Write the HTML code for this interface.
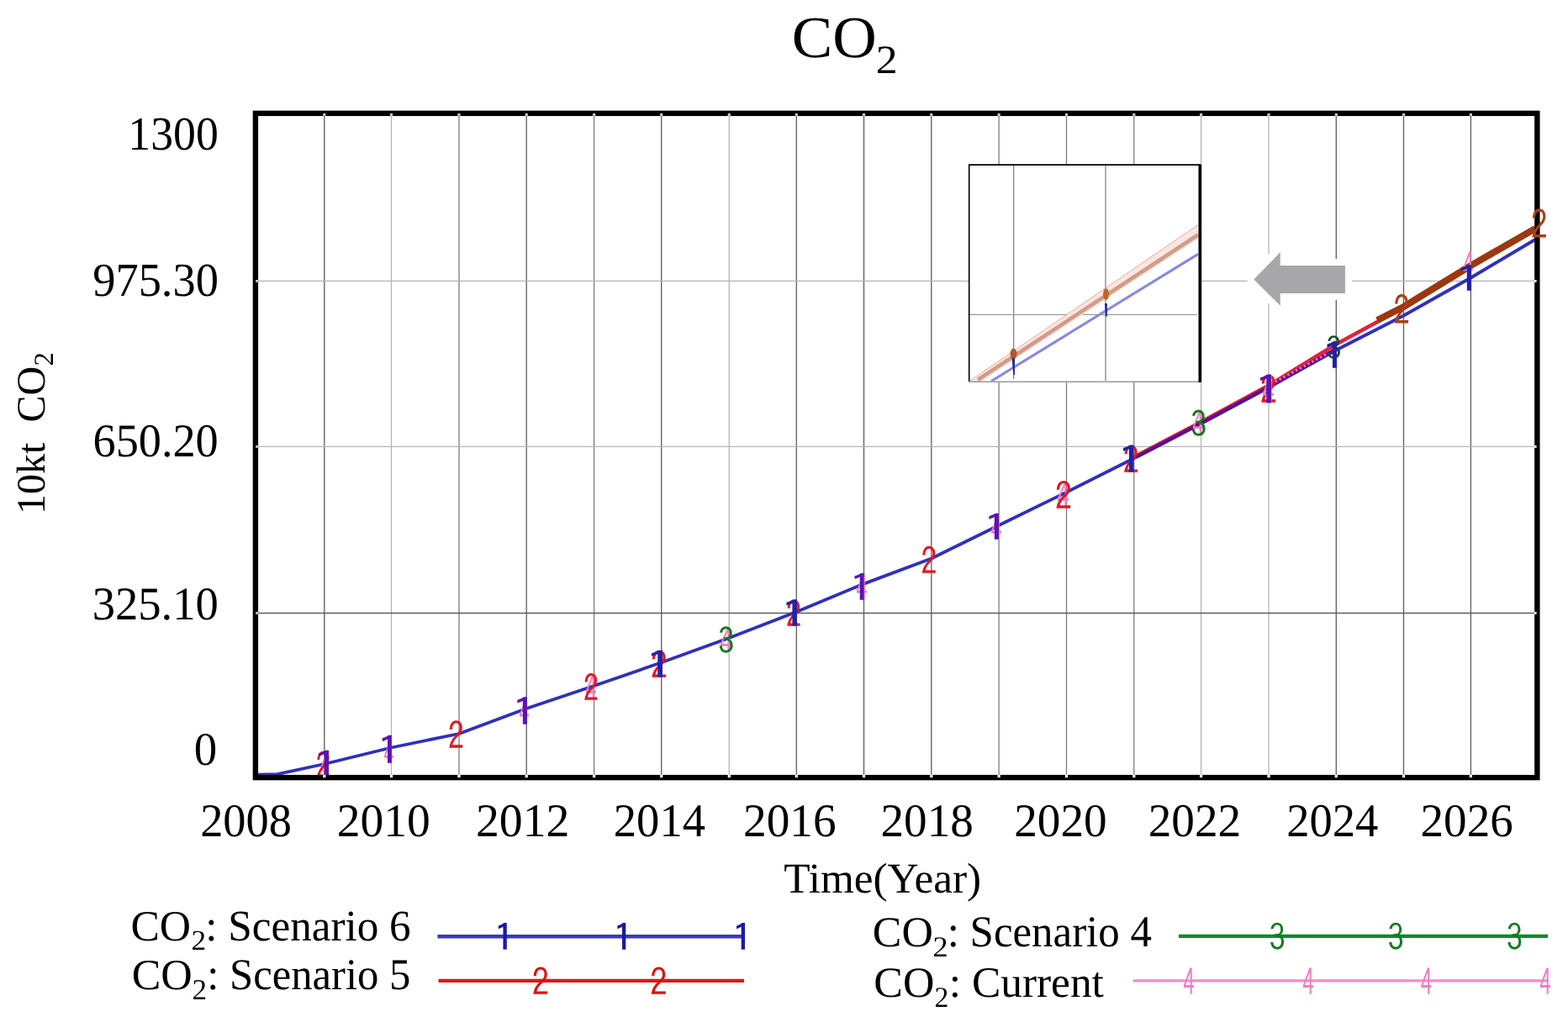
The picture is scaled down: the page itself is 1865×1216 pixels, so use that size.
<!DOCTYPE html>
<html><head><meta charset="utf-8"><title>CO2</title><style>
html,body{margin:0;padding:0;background:#fff;}
body{width:1865px;height:1216px;overflow:hidden;position:relative;}
svg{position:absolute;left:0;top:0;display:block;}
</style></head><body>
<svg width="1865" height="1216" viewBox="0 0 1865 1216" text-rendering="geometricPrecision">
<rect x="0" y="0" width="1865" height="1216" fill="#fff"/>
<g fill="none" stroke-width="1.3">
<line x1="385.8" y1="137" x2="385.8" y2="923" stroke="#5c5c5c"/>
<line x1="465.5" y1="137" x2="465.5" y2="923" stroke="#b4b4b4"/>
<line x1="546.0" y1="137" x2="546.0" y2="923" stroke="#7c7c7c"/>
<line x1="626.2" y1="137" x2="626.2" y2="923" stroke="#5c5c5c"/>
<line x1="706.6" y1="137" x2="706.6" y2="923" stroke="#7c7c7c"/>
<line x1="786.7" y1="137" x2="786.7" y2="923" stroke="#5c5c5c"/>
<line x1="867.3" y1="137" x2="867.3" y2="923" stroke="#b4b4b4"/>
<line x1="947.3" y1="137" x2="947.3" y2="923" stroke="#5c5c5c"/>
<line x1="1027.5" y1="137" x2="1027.5" y2="923" stroke="#5c5c5c"/>
<line x1="1107.8" y1="137" x2="1107.8" y2="923" stroke="#5c5c5c"/>
<line x1="1188.1" y1="137" x2="1188.1" y2="923" stroke="#7c7c7c"/>
<line x1="1268.5" y1="137" x2="1268.5" y2="923" stroke="#7c7c7c"/>
<line x1="1348.8" y1="137" x2="1348.8" y2="923" stroke="#7c7c7c"/>
<line x1="1428.6" y1="137" x2="1428.6" y2="923" stroke="#b4b4b4"/>
<line x1="1509.0" y1="137" x2="1509.0" y2="923" stroke="#b4b4b4"/>
<line x1="1589.3" y1="137" x2="1589.3" y2="923" stroke="#5c5c5c"/>
<line x1="1669.5" y1="137" x2="1669.5" y2="923" stroke="#5c5c5c"/>
<line x1="1749.4" y1="137" x2="1749.4" y2="923" stroke="#5c5c5c"/>
<line x1="306" y1="334.4" x2="1826" y2="334.4" stroke="#b4b4b4"/>
<line x1="306" y1="531.4" x2="1826" y2="531.4" stroke="#b4b4b4"/>
<line x1="306" y1="729.5" x2="1826" y2="729.5" stroke="#5c5c5c"/>
</g>
<polygon points="1491.3,332.5 1522.9,299.9 1522.6,316 1599.9,316 1599.9,349 1522.6,349 1522.9,363.8" fill="#fff" stroke="#fff" stroke-width="16" stroke-linejoin="round"/>
<polygon points="1491.3,332.5 1522.9,299.9 1522.6,316 1599.9,316 1599.9,349 1522.6,349 1522.9,363.8" fill="#a7a6a8"/>
<g>
<rect x="1152.7" y="196.1" width="274" height="258" fill="#fff"/>
<g stroke-width="1.2" fill="none">
<line x1="1205.7" y1="197" x2="1205.7" y2="451" stroke="#7a7a7a"/>
<line x1="1315" y1="197" x2="1315" y2="453" stroke="#7a7a7a"/>
<line x1="1153" y1="374.3" x2="1424" y2="374.3" stroke="#9a9a9a"/>
</g>
<polygon points="1153,453.5 1425,267.5 1425,284 1166,454.5" fill="#fbe6e1"/>
<line x1="1153" y1="453.5" x2="1425" y2="267.5" stroke="#e2a596" stroke-width="0.9"/>
<line x1="1163" y1="452" x2="1425" y2="279.5" stroke="#d59c88" stroke-width="4.5"/>
<line x1="1164" y1="450" x2="1425" y2="277" stroke="#c89070" stroke-width="0.8" opacity="0.6"/>
<line x1="1179" y1="453.5" x2="1425" y2="302.4" stroke="#8787e6" stroke-width="3"/>
<ellipse cx="1205.5" cy="421" rx="4" ry="6.5" fill="#b8532e"/>
<path d="M1203.5,426 L1207,426 L1207,445 L1205.5,447 Z" fill="#2a2a90"/>
<ellipse cx="1315.5" cy="350" rx="3.5" ry="7" fill="#c0652a"/>
<path d="M1314,361 L1316.8,361 L1316.8,376 L1315,377 Z" fill="#2020a0"/>
<path d="M1152.7,454 L1152.7,196.1 L1427,196.1" fill="none" stroke="#000" stroke-width="1.6"/>
<line x1="1152" y1="454.2" x2="1428" y2="454.2" stroke="#999" stroke-width="1.6"/>
<line x1="1427.3" y1="195.5" x2="1427.3" y2="455" stroke="#000" stroke-width="3.6"/>
</g>
<polyline points="1348.8,543.8 1428.6,502 1509,458.6 1589.3,409.5 1669.5,366" fill="none" stroke="#e4203c" stroke-width="4.5" stroke-linejoin="round"/>
<polyline points="1638,381 1669.5,365 1749.4,316 1826,272" fill="none" stroke="#9c3810" stroke-width="8" stroke-linejoin="round"/>
<polyline points="307.0,921.6 330.0,921.2 386.0,909.0 465.5,889.5 546.0,873.0 626.2,843.0 706.6,816.0 786.7,788.3 867.3,759.0 947.3,728.0 1027.5,694.6 1107.8,664.5 1188.1,625.0 1268.5,585.6 1348.8,545.2 1428.6,504.0 1509.0,461.0 1589.3,416.5 1669.5,375.5 1749.4,330.5 1826.0,285.0" fill="none" stroke="#2f2fc0" stroke-width="3.8" stroke-linejoin="round"/>
<polyline points="1352,543.5 1428.6,503.5 1509,460.5 1589.3,415" fill="none" stroke="#5c0c94" stroke-width="4.2" stroke-linejoin="round"/>
<line x1="1512" y1="457" x2="1580" y2="420" stroke="#f070b0" stroke-width="3" stroke-dasharray="2.5 3" />
<g font-family="IPAGothic, 'Liberation Sans', sans-serif">
<text transform="translate(380.45,927.18) scale(0.518,1)" font-size="42.84" fill="#f27cc0">4</text>
<text transform="translate(375.58,927.19) scale(0.841,1)" font-size="43.10" fill="#e8141e">2</text>
<text transform="translate(371.41,927.32) scale(1.404,1)" font-size="45.70" fill="#5a14b4">1</text>
<text transform="translate(456.39,911.10) scale(0.590,1)" font-size="41.42" fill="#f27cc0">4</text>
<text transform="translate(447.68,910.18) scale(1.267,1)" font-size="46.84" fill="#5a14b4">1</text>
<text transform="translate(532.69,892.20) scale(0.855,1)" font-size="45.19" fill="#e8141e">2</text>
<text transform="translate(617.39,862.18) scale(0.570,1)" font-size="42.84" fill="#f27cc0">4</text>
<text transform="translate(608.07,863.75) scale(1.341,1)" font-size="46.27" fill="#5a14b4">1</text>
<text transform="translate(696.34,834.10) scale(0.644,1)" font-size="41.42" fill="#f27cc0">4</text>
<text transform="translate(693.85,835.35) scale(0.836,1)" font-size="44.22" fill="#e8141e">2</text>
<text transform="translate(773.81,807.76) scale(0.912,1)" font-size="44.49" fill="#e8141e">2</text>
<text transform="translate(766.78,807.82) scale(1.521,1)" font-size="45.70" fill="#2222a8">1</text>
<text transform="translate(856.28,778.10) scale(0.697,1)" font-size="41.42" fill="#f27cc0">4</text>
<text transform="translate(853.98,778.31) scale(0.911,1)" font-size="42.42" fill="#0e7a1c">3</text>
<text transform="translate(934.85,747.02) scale(0.852,1)" font-size="43.66" fill="#e8141e">2</text>
<text transform="translate(927.60,747.08) scale(1.491,1)" font-size="44.84" fill="#2222a8">1</text>
<text transform="translate(1018.34,715.18) scale(0.622,1)" font-size="42.84" fill="#f27cc0">4</text>
<text transform="translate(1009.38,715.71) scale(1.307,1)" font-size="45.42" fill="#5a14b4">1</text>
<text transform="translate(1095.19,683.85) scale(0.871,1)" font-size="44.35" fill="#e8141e">2</text>
<text transform="translate(1178.34,644.18) scale(0.622,1)" font-size="42.84" fill="#f27cc0">4</text>
<text transform="translate(1169.07,644.24) scale(1.406,1)" font-size="44.13" fill="#5a14b4">1</text>
<text transform="translate(1257.28,605.10) scale(0.697,1)" font-size="41.42" fill="#f27cc0">4</text>
<text transform="translate(1254.80,607.01) scale(0.898,1)" font-size="45.47" fill="#e8141e">2</text>
<text transform="translate(1335.58,564.07) scale(0.871,1)" font-size="44.63" fill="#e8141e">2</text>
<text transform="translate(1328.10,564.13) scale(1.458,1)" font-size="45.84" fill="#2222a8">1</text>
<text transform="translate(1418.34,519.03) scale(0.667,1)" font-size="39.99" fill="#f27cc0">4</text>
<text transform="translate(1415.88,520.10) scale(0.917,1)" font-size="42.15" fill="#0e7a1c">3</text>
<text transform="translate(1498.39,481.33) scale(0.895,1)" font-size="45.88" fill="#e8141e">2</text>
<text transform="translate(1501.28,481.32) scale(0.632,1)" font-size="45.70" fill="#f27cc0">4</text>
<text transform="translate(1490.78,482.47) scale(1.432,1)" font-size="48.56" fill="#5a14b4">1</text>
<text transform="translate(1577.48,428.35) scale(0.971,1)" font-size="37.29" fill="#1c4a24">3</text>
<text transform="translate(1571.13,440.39) scale(1.363,1)" font-size="45.13" fill="#2222a8">1</text>
<text transform="translate(1657.16,387.04) scale(0.821,1)" font-size="47.97" fill="#b03c14">2</text>
<text transform="translate(1739.34,332.21) scale(0.612,1)" font-size="43.56" fill="#f27cc0">4</text>
<text transform="translate(1730.41,348.21) scale(1.473,1)" font-size="43.56" fill="#2222a8">1</text>
</g>
<rect x="303.9" y="134.85" width="1524.45" height="790.3" fill="none" stroke="#000" stroke-width="6.4"/>
<g font-family="IPAGothic, 'Liberation Sans', sans-serif"><text transform="translate(1820.83,284.83) scale(0.838,1)" font-size="47.83" fill="#b03c14">2</text></g>
<rect x="384.2" y="135" width="3.2" height="2.9" fill="#cfcfcf"/>
<rect x="384.2" y="921.8" width="3.2" height="3.4" fill="#fff"/>
<rect x="463.9" y="135" width="3.2" height="2.9" fill="#cfcfcf"/>
<rect x="463.9" y="921.8" width="3.2" height="3.4" fill="#fff"/>
<rect x="544.4" y="135" width="3.2" height="2.9" fill="#cfcfcf"/>
<rect x="544.4" y="921.8" width="3.2" height="3.4" fill="#fff"/>
<rect x="624.6" y="135" width="3.2" height="2.9" fill="#cfcfcf"/>
<rect x="624.6" y="921.8" width="3.2" height="3.4" fill="#fff"/>
<rect x="705.0" y="135" width="3.2" height="2.9" fill="#cfcfcf"/>
<rect x="705.0" y="921.8" width="3.2" height="3.4" fill="#fff"/>
<rect x="785.1" y="135" width="3.2" height="2.9" fill="#cfcfcf"/>
<rect x="785.1" y="921.8" width="3.2" height="3.4" fill="#fff"/>
<rect x="865.7" y="135" width="3.2" height="2.9" fill="#cfcfcf"/>
<rect x="865.7" y="921.8" width="3.2" height="3.4" fill="#fff"/>
<rect x="945.7" y="135" width="3.2" height="2.9" fill="#cfcfcf"/>
<rect x="945.7" y="921.8" width="3.2" height="3.4" fill="#fff"/>
<rect x="1025.9" y="135" width="3.2" height="2.9" fill="#cfcfcf"/>
<rect x="1025.9" y="921.8" width="3.2" height="3.4" fill="#fff"/>
<rect x="1106.2" y="135" width="3.2" height="2.9" fill="#cfcfcf"/>
<rect x="1106.2" y="921.8" width="3.2" height="3.4" fill="#fff"/>
<rect x="1186.5" y="135" width="3.2" height="2.9" fill="#cfcfcf"/>
<rect x="1186.5" y="921.8" width="3.2" height="3.4" fill="#fff"/>
<rect x="1266.9" y="135" width="3.2" height="2.9" fill="#cfcfcf"/>
<rect x="1266.9" y="921.8" width="3.2" height="3.4" fill="#fff"/>
<rect x="1347.2" y="135" width="3.2" height="2.9" fill="#cfcfcf"/>
<rect x="1347.2" y="921.8" width="3.2" height="3.4" fill="#fff"/>
<rect x="1427.0" y="135" width="3.2" height="2.9" fill="#cfcfcf"/>
<rect x="1427.0" y="921.8" width="3.2" height="3.4" fill="#fff"/>
<rect x="1507.4" y="135" width="3.2" height="2.9" fill="#cfcfcf"/>
<rect x="1507.4" y="921.8" width="3.2" height="3.4" fill="#fff"/>
<rect x="1587.7" y="135" width="3.2" height="2.9" fill="#cfcfcf"/>
<rect x="1587.7" y="921.8" width="3.2" height="3.4" fill="#fff"/>
<rect x="1667.9" y="135" width="3.2" height="2.9" fill="#cfcfcf"/>
<rect x="1667.9" y="921.8" width="3.2" height="3.4" fill="#fff"/>
<rect x="1747.8" y="135" width="3.2" height="2.9" fill="#cfcfcf"/>
<rect x="1747.8" y="921.8" width="3.2" height="3.4" fill="#fff"/>
<rect x="304.2" y="333.0" width="2.8" height="2.8" fill="#d0d0d0"/>
<rect x="1825" y="333.0" width="2.6" height="2.8" fill="#fff"/>
<rect x="304.2" y="530.0" width="2.8" height="2.8" fill="#d0d0d0"/>
<rect x="1825" y="530.0" width="2.6" height="2.8" fill="#fff"/>
<rect x="304.2" y="728.1" width="2.8" height="2.8" fill="#d0d0d0"/>
<rect x="1825" y="728.1" width="2.6" height="2.8" fill="#fff"/>
<line x1="520.4" y1="1114.3" x2="885" y2="1114.3" stroke="#3a3ac0" stroke-width="4.6"/>
<line x1="521.5" y1="1166.9" x2="885" y2="1166.9" stroke="#e01818" stroke-width="4.4"/>
<line x1="1402" y1="1113.8" x2="1841" y2="1113.8" stroke="#138a2a" stroke-width="4.3"/>
<line x1="1347.6" y1="1166.9" x2="1841.6" y2="1166.9" stroke="#f58cc8" stroke-width="3.2"/>
<g font-family="IPAGothic, 'Liberation Sans', sans-serif">
<text transform="translate(586.48,1132.09) scale(1.185,1)" font-size="45.13" fill="#1a1aa6">1</text>
<text transform="translate(727.98,1132.09) scale(1.185,1)" font-size="45.13" fill="#1a1aa6">1</text>
<text transform="translate(869.68,1132.09) scale(1.185,1)" font-size="45.13" fill="#1a1aa6">1</text>
<text transform="translate(632.48,1185.27) scale(0.928,1)" font-size="44.77" fill="#e01010">2</text>
<text transform="translate(773.08,1185.27) scale(0.928,1)" font-size="44.77" fill="#e01010">2</text>
<text transform="translate(1509.38,1131.33) scale(0.894,1)" font-size="43.23" fill="#137a22">3</text>
<text transform="translate(1650.38,1131.33) scale(0.894,1)" font-size="43.23" fill="#137a22">3</text>
<text transform="translate(1791.68,1131.33) scale(0.894,1)" font-size="43.23" fill="#137a22">3</text>
<text transform="translate(1407.34,1184.96) scale(0.598,1)" font-size="44.56" fill="#f27cc0">4</text>
<text transform="translate(1549.24,1184.96) scale(0.598,1)" font-size="44.56" fill="#f27cc0">4</text>
<text transform="translate(1689.64,1184.96) scale(0.598,1)" font-size="44.56" fill="#f27cc0">4</text>
<text transform="translate(1831.34,1184.96) scale(0.598,1)" font-size="44.56" fill="#f27cc0">4</text>
</g>
<g font-family="'Liberation Serif', 'Times New Roman', serif" fill="#000">
<text transform="translate(941.75,68.11) scale(1.0354,1)" font-size="70.22" xml:space="preserve">CO</text>
<text transform="translate(1041.86,86.99) scale(1.0810,1)" font-size="47.83" xml:space="preserve">2</text>
<text transform="translate(152.35,177.54) scale(0.9510,1)" font-size="56.48" xml:space="preserve">1300</text>
<text transform="translate(110.18,351.76) scale(0.9647,1)" font-size="56.44" xml:space="preserve">975.30</text>
<text transform="translate(110.53,543.27) scale(0.9703,1)" font-size="55.93" xml:space="preserve">650.20</text>
<text transform="translate(109.64,737.27) scale(0.9804,1)" font-size="55.73" xml:space="preserve">325.10</text>
<text transform="translate(230.80,910.12) scale(0.9846,1)" font-size="55.74" xml:space="preserve">0</text>
<text transform="translate(238.17,994.54) scale(0.9742,1)" font-size="55.80" xml:space="preserve">2008</text>
<text transform="translate(400.69,994.59) scale(0.9961,1)" font-size="55.75" xml:space="preserve">2010</text>
<text transform="translate(565.93,994.59) scale(0.9977,1)" font-size="55.90" xml:space="preserve">2012</text>
<text transform="translate(729.84,994.59) scale(0.9764,1)" font-size="55.88" xml:space="preserve">2014</text>
<text transform="translate(883.97,994.54) scale(0.9929,1)" font-size="55.72" xml:space="preserve">2016</text>
<text transform="translate(1047.53,994.54) scale(0.9895,1)" font-size="55.76" xml:space="preserve">2018</text>
<text transform="translate(1206.28,994.59) scale(0.9901,1)" font-size="55.74" xml:space="preserve">2020</text>
<text transform="translate(1365.73,994.63) scale(0.9876,1)" font-size="55.96" xml:space="preserve">2022</text>
<text transform="translate(1530.14,994.65) scale(0.9762,1)" font-size="55.89" xml:space="preserve">2024</text>
<text transform="translate(1689.54,994.54) scale(0.9886,1)" font-size="55.77" xml:space="preserve">2026</text>
<text transform="translate(932.21,1062.18) scale(1.0114,1)" font-size="50.66" xml:space="preserve">Time(Year)</text>
<text transform="translate(155.49,1119.08) scale(1.0044,1)" font-size="51.30" xml:space="preserve">CO</text>
<text transform="translate(227.52,1130.00) scale(1.0450,1)" font-size="33.71" xml:space="preserve">2</text>
<text transform="translate(244.33,1118.69) scale(0.9822,1)" font-size="52.08" xml:space="preserve">: Scenario 6</text>
<text transform="translate(156.64,1176.55) scale(1.0128,1)" font-size="51.25" xml:space="preserve">CO</text>
<text transform="translate(228.57,1188.81) scale(1.0059,1)" font-size="34.83" xml:space="preserve">2</text>
<text transform="translate(246.20,1177.33) scale(0.9653,1)" font-size="52.55" xml:space="preserve">: Scenario 5</text>
<text transform="translate(1037.86,1125.58) scale(1.0149,1)" font-size="51.07" xml:space="preserve">CO</text>
<text transform="translate(1109.59,1137.50) scale(1.0508,1)" font-size="34.50" xml:space="preserve">2</text>
<text transform="translate(1126.74,1125.79) scale(0.9669,1)" font-size="52.65" xml:space="preserve">: Scenario 4</text>
<text transform="translate(1039.32,1185.59) scale(1.0151,1)" font-size="51.11" xml:space="preserve">CO</text>
<text transform="translate(1111.51,1197.50) scale(0.9767,1)" font-size="34.52" xml:space="preserve">2</text>
<text transform="translate(1128.76,1186.24) scale(0.9999,1)" font-size="51.41" xml:space="preserve">: Current</text>
<text transform="translate(52.8,611.9) rotate(-90)" font-size="48" xml:space="preserve">10kt  CO</text>
<text transform="translate(63.3,435.6) rotate(-90)" font-size="32.8">2</text>
</g>
</svg>
</body></html>
